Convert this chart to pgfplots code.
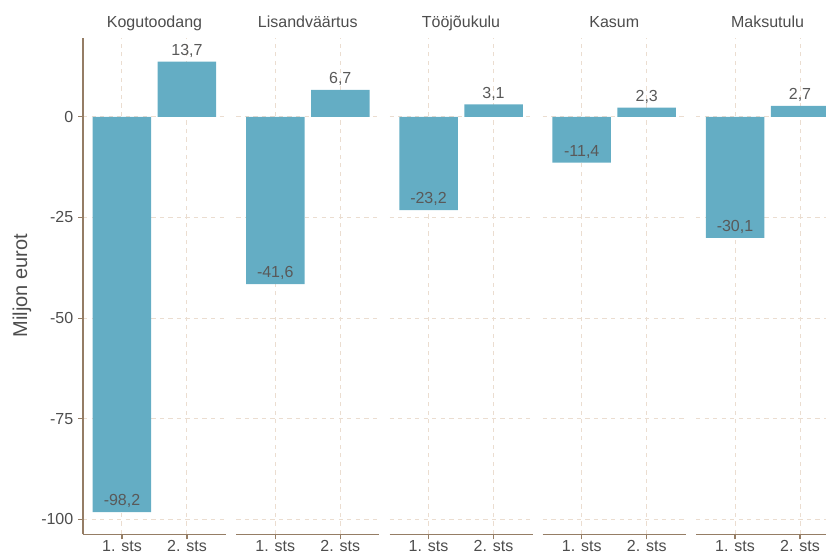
\documentclass[border=0pt]{standalone}
\usepackage{pgfplots}
\pgfplotsset{compat=1.18}
\usepackage{fontspec}
\setmainfont{Liberation Sans}
\definecolor{barcol}{HTML}{64ADC4}
\definecolor{gridcol}{HTML}{EBDDD0}
\definecolor{axcol}{HTML}{957D65}
\definecolor{txtcol}{HTML}{4D4D4D}
\definecolor{valcol}{HTML}{595959}
\pgfplotsset{
 panel/.style={
  scale only axis, width=107.25pt, height=372pt,
  anchor=south west,
  xmin=0.4, xmax=2.6, ymin=-103.72, ymax=19.5,
  xtick={1,2}, xticklabels={1. sts, 2. sts},
  ytick={-100,-75,-50,-25,0},
  axis x line*=bottom, axis y line*=left,
  axis line style={-, draw=axcol, line width=0.8pt},
  tick align=outside, major tick length=3.75pt,
  tick style={draw=axcol, line width=0.8pt},
  grid=major,
  major grid style={draw=gridcol, dash pattern=on 3.2pt off 3.2pt, line width=0.75pt},
  ybar, bar width=0.9,
  /pgf/number format/assume math mode=true,
  ticklabel style={text=txtcol, font=\fontsize{12}{14}\selectfont},
  xticklabel style={anchor=base, inner sep=0pt, yshift=-9.5pt},
  every axis title/.style={at={(0.5,1)}, anchor=base, yshift=8pt, text=txtcol, font=\fontsize{12}{14}\selectfont},
  nodes near coords={\pgfmathprintnumber[fixed,fixed zerofill,precision=1,use comma]{\pgfplotspointmeta}},
  nodes near coords style={anchor=base, yshift=4.7pt, text=valcol, font=\fontsize{12}{14}\selectfont},
 },
 inner/.style={y axis line style={draw=none}, ytick style={draw=none}, yticklabels={}},
}
\begin{document}
\begin{tikzpicture}
\begin{axis}[panel, at={(62.25pt,16.275pt)}, title={Kogutoodang}]
\addplot[fill=barcol, draw=none] coordinates {(1,-98.2) (2,13.7)};
\end{axis}
\begin{axis}[panel, inner, at={(177.19pt,16.275pt)}, title={Lisandväärtus}]
\addplot[fill=barcol, draw=none] coordinates {(1,-41.6) (2,6.7)};
\end{axis}
\begin{axis}[panel, inner, at={(292.13pt,16.275pt)}, title={Tööjõukulu}]
\addplot[fill=barcol, draw=none] coordinates {(1,-23.2) (2,3.1)};
\end{axis}
\begin{axis}[panel, inner, at={(407.06pt,16.275pt)}, title={Kasum}]
\addplot[fill=barcol, draw=none] coordinates {(1,-11.4) (2,2.3)};
\end{axis}
\begin{axis}[panel, inner, at={(522pt,16.275pt)}, title={Maksutulu}]
\addplot[fill=barcol, draw=none] coordinates {(1,-30.1) (2,2.7)};
\end{axis}
\node[rotate=90, text=txtcol, font=\fontsize{15}{17}\selectfont] at (16.5pt,202.9pt) {Miljon eurot};
\pgfresetboundingbox
\useasboundingbox (0,0) rectangle (619.5pt,417pt);
\end{tikzpicture}
\end{document}
